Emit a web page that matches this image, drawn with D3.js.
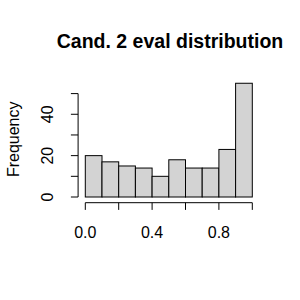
<!DOCTYPE html>
<html>
<head>
<meta charset="utf-8">
<script src="https://cdn.jsdelivr.net/npm/d3@7"></script>
<style>
  body { margin: 0; background: #fff; }
  text { font-family: "Liberation Sans", Arial, sans-serif; }
</style>
</head>
<body>
<div id="viz"></div>
<script>
// histogram data
const binEdges = [0, 0.1, 0.2, 0.3, 0.4, 0.5, 0.6, 0.7, 0.8, 0.9, 1.0]
const counts = [20, 17, 15, 14, 10, 18, 14, 14, 23, 55]
const xTicks = [0, 0.2, 0.4, 0.6, 0.8, 1.0]
const xLabels = ["0.0", "", "0.4", "", "0.8", ""]
const yTicks = [0, 10, 20, 30, 40, 50]
const yLabels = ["0", "", "20", "", "40", ""]

const width = 300, height = 300

const svg = d3.select("#viz").append("svg")
  .attr("width", width)
  .attr("height", height)

// scales (R style, 4% padding)
const x = d3.scaleLinear().domain([0, 1]).range([85.3, 252.3])
const y = d3.scaleLinear().domain([0, 50]).range([197, 93.6])

// bars
svg.selectAll(".bar").data(counts)
  .enter().append("rect")
    .attr("class", "bar")
    .attr("x", (d, i) => x(binEdges[i]))
    .attr("width", (d, i) => x(binEdges[i + 1]) - x(binEdges[i]))
    .attr("y", d => y(d))
    .attr("height", d => y(0) - y(d))
    .attr("fill", "#d3d3d3")
    .attr("stroke", "#000")
    .attr("stroke-width", 1)

// x axis
const xAxisY = 202.7
const xAxis = svg.append("g")
xAxis.append("line")
  .attr("x1", x(0)).attr("x2", x(1))
  .attr("y1", xAxisY).attr("y2", xAxisY)
  .attr("stroke", "#000")
xAxis.selectAll(".xt").data(xTicks)
  .enter().append("line")
    .attr("x1", d => x(d)).attr("x2", d => x(d))
    .attr("y1", xAxisY).attr("y2", xAxisY + 7.2)
    .attr("stroke", "#000")
xAxis.selectAll(".xl").data(xTicks)
  .enter().append("text")
    .attr("x", d => x(d))
    .attr("y", 238)
    .attr("text-anchor", "middle")
    .style("font-size", "16px")
    .text((d, i) => xLabels[i])

// y axis
const yAxisX = 78.1
const yAxis = svg.append("g")
yAxis.append("line")
  .attr("x1", yAxisX).attr("x2", yAxisX)
  .attr("y1", y(0)).attr("y2", y(50))
  .attr("stroke", "#000")
yAxis.selectAll(".yt").data(yTicks)
  .enter().append("line")
    .attr("x1", yAxisX - 7.2).attr("x2", yAxisX)
    .attr("y1", d => y(d)).attr("y2", d => y(d))
    .attr("stroke", "#000")
yAxis.selectAll(".yl").data(yTicks)
  .enter().append("text")
    .attr("transform", d => `translate(${53},${y(d)}) rotate(-90)`)
    .attr("text-anchor", "middle")
    .style("font-size", "16px")
    .text((d, i) => yLabels[i])

// labels
svg.append("text")
  .attr("transform", `translate(18.5,${(y(0) + y(50)) / 2 - 6}) rotate(-90)`)
  .attr("text-anchor", "middle")
  .style("font-size", "16px")
  .text("Frequency")

svg.append("text")
  .attr("x", 170)
  .attr("y", 48)
  .attr("text-anchor", "middle")
  .style("font-size", "19.5px")
  .style("font-weight", "bold")
  .text("Cand. 2 eval distribution")
</script>
</body>
</html>
